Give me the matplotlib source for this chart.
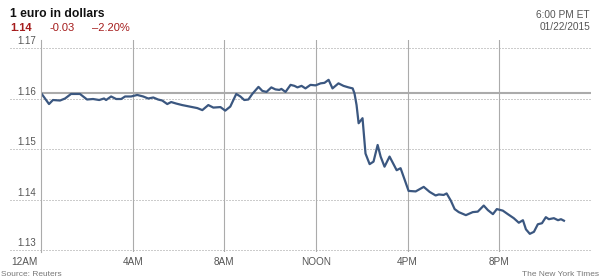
import matplotlib
matplotlib.use("Agg")
import matplotlib.pyplot as plt

plt.rcParams["font.family"] = ["Liberation Sans", "DejaVu Sans"]

# hours after midnight, 01/22/2015
hours = [0.0, 0.35, 0.52, 0.83, 1.05, 1.31, 1.70, 2.01, 2.27, 2.54, 2.75, 2.84,
         3.06, 3.28, 3.50, 3.67, 3.93, 4.20, 4.46, 4.68, 4.90, 5.11, 5.29, 5.51,
         5.68, 5.90, 6.16, 6.60, 6.82, 7.04, 7.30, 7.52, 7.83, 8.04, 8.26, 8.52,
         8.70, 8.87, 9.05, 9.22, 9.49, 9.66, 9.84, 10.05, 10.23, 10.40, 10.49,
         10.67, 10.89, 11.06, 11.19, 11.37, 11.54, 11.76, 11.98, 12.20, 12.37,
         12.55, 12.72, 12.98, 13.20, 13.42, 13.60, 13.68, 13.77, 13.86, 14.03,
         14.16, 14.34, 14.51, 14.69, 14.82, 14.99, 15.21, 15.52, 15.69, 15.87,
         16.04, 16.35, 16.70, 16.96, 17.22, 17.36, 17.57, 17.70, 17.88, 18.05,
         18.23, 18.54, 18.84, 19.06, 19.32, 19.50, 19.72, 19.89, 20.15, 20.37,
         20.63, 20.85, 21.03, 21.16, 21.33, 21.51, 21.68, 21.86, 22.03, 22.16,
         22.38, 22.56, 22.69, 22.82]
rates = [1.1611, 1.1589, 1.1597, 1.1596, 1.1600, 1.1609, 1.1609, 1.1598, 1.1599,
         1.1597, 1.1600, 1.1597, 1.1604, 1.1599, 1.1599, 1.1604, 1.1604, 1.1607,
         1.1604, 1.1600, 1.1602, 1.1598, 1.1596, 1.1589, 1.1593, 1.1590, 1.1587,
         1.1583, 1.1581, 1.1577, 1.1587, 1.1582, 1.1583, 1.1576, 1.1584, 1.1609,
         1.1604, 1.1597, 1.1598, 1.1609, 1.1623, 1.1615, 1.1613, 1.1622, 1.1618,
         1.1617, 1.1619, 1.1613, 1.1627, 1.1625, 1.1622, 1.1625, 1.1620, 1.1627,
         1.1626, 1.1630, 1.1631, 1.1637, 1.1620, 1.1630, 1.1625, 1.1622, 1.1620,
         1.1610, 1.1587, 1.1551, 1.1561, 1.1491, 1.1470, 1.1475, 1.1508, 1.1485,
         1.1465, 1.1485, 1.1458, 1.1462, 1.1439, 1.1417, 1.1416, 1.1425, 1.1415,
         1.1408, 1.1410, 1.1409, 1.1412, 1.1398, 1.1381, 1.1375, 1.1369, 1.1375,
         1.1376, 1.1388, 1.1379, 1.1371, 1.1381, 1.1378, 1.1371, 1.1363, 1.1354,
         1.1359, 1.1341, 1.1332, 1.1336, 1.1351, 1.1353, 1.1365, 1.1361, 1.1363,
         1.1359, 1.1361, 1.1358]
prev_close = 1.1611

x_ticks = [0, 4, 8, 12, 16, 20]
x_labels = ["12AM", "4AM", "8AM", "NOON", "4PM", "8PM"]
y_ticks = [1.13, 1.14, 1.15, 1.16, 1.17]

RED = "#a51c1c"
GRAY = "#555555"
LINE = "#3b5780"


def main():
    fig = plt.figure(figsize=(6, 2.8), dpi=100)
    ax = fig.add_axes([41 / 600, 1 - 252 / 280, 550 / 600, 212 / 280])
    ax.set_xlim(0, 24)
    ax.set_ylim(1.13 - 2 * 0.04 / 202, 1.17 + 8 * 0.04 / 202)

    for s in ["top", "right", "bottom"]:
        ax.spines[s].set_visible(False)
    ax.spines["left"].set_color("#ababab")
    ax.spines["left"].set_linewidth(0.8)
    ax.set_xticks([])
    ax.set_yticks([])

    # dotted value lines, running out under the labels
    for v in y_ticks:
        ax.plot([-0.0564, 1], [v, v], transform=ax.get_yaxis_transform(),
                clip_on=False, color="#9a9a9a", lw=0.72, ls=(0, (1, 2)))
        ax.text(-0.009, v + 0.0003, f"{v:.2f}", transform=ax.get_yaxis_transform(),
                ha="right", va="bottom", fontsize=7, color=GRAY)

    for h in x_ticks[1:]:
        ax.axvline(h, color="#ababab", lw=0.8)
    ax.axvline(24, color="#9a9a9a", lw=0.72, ls=(0, (1, 2)))
    ax.axhline(prev_close, color="#ababab", lw=1.5)

    for h, lab in zip(x_ticks, x_labels):
        ax.text(h - 0.15 if h == 0 else h, -0.025, lab,
                transform=ax.get_xaxis_transform(),
                ha="right" if h == 0 else "center", va="top",
                fontsize=7.2, color=GRAY)

    ax.plot(hours, rates, color=LINE, lw=1.6, solid_joinstyle="round")

    # header
    fig.text(10 / 600, 1 - 14 / 280, "1 euro in dollars", fontsize=8.7,
             fontweight="bold", color="#111111", va="center")
    fig.text(10 / 600, 1 - 28 / 280, "1.14", fontsize=8, fontweight="bold",
             color=RED, va="center")
    fig.text(50 / 600, 1 - 28 / 280, "-0.03", fontsize=8, color=RED, va="center")
    fig.text(92 / 600, 1 - 28 / 280, "\u20132.20%", fontsize=8, color=RED,
             va="center")
    fig.text(590 / 600, 1 - 14.5 / 280, "6:00 PM ET", fontsize=7.3, color=GRAY,
             ha="right", va="center")
    fig.text(590 / 600, 1 - 27.5 / 280, "01/22/2015", fontsize=7.3, color=GRAY,
             ha="right", va="center")

    # footer
    fig.text(1 / 600, 1 - 275 / 280, "Source: Reuters", fontsize=6, color="#777777",
             va="center")
    fig.text(599 / 600, 1 - 275 / 280, "The New York Times", fontsize=6,
             color="#777777", ha="right", va="center")

    fig.savefig("out.png", dpi=100)


if __name__ == "__main__":
    main()
